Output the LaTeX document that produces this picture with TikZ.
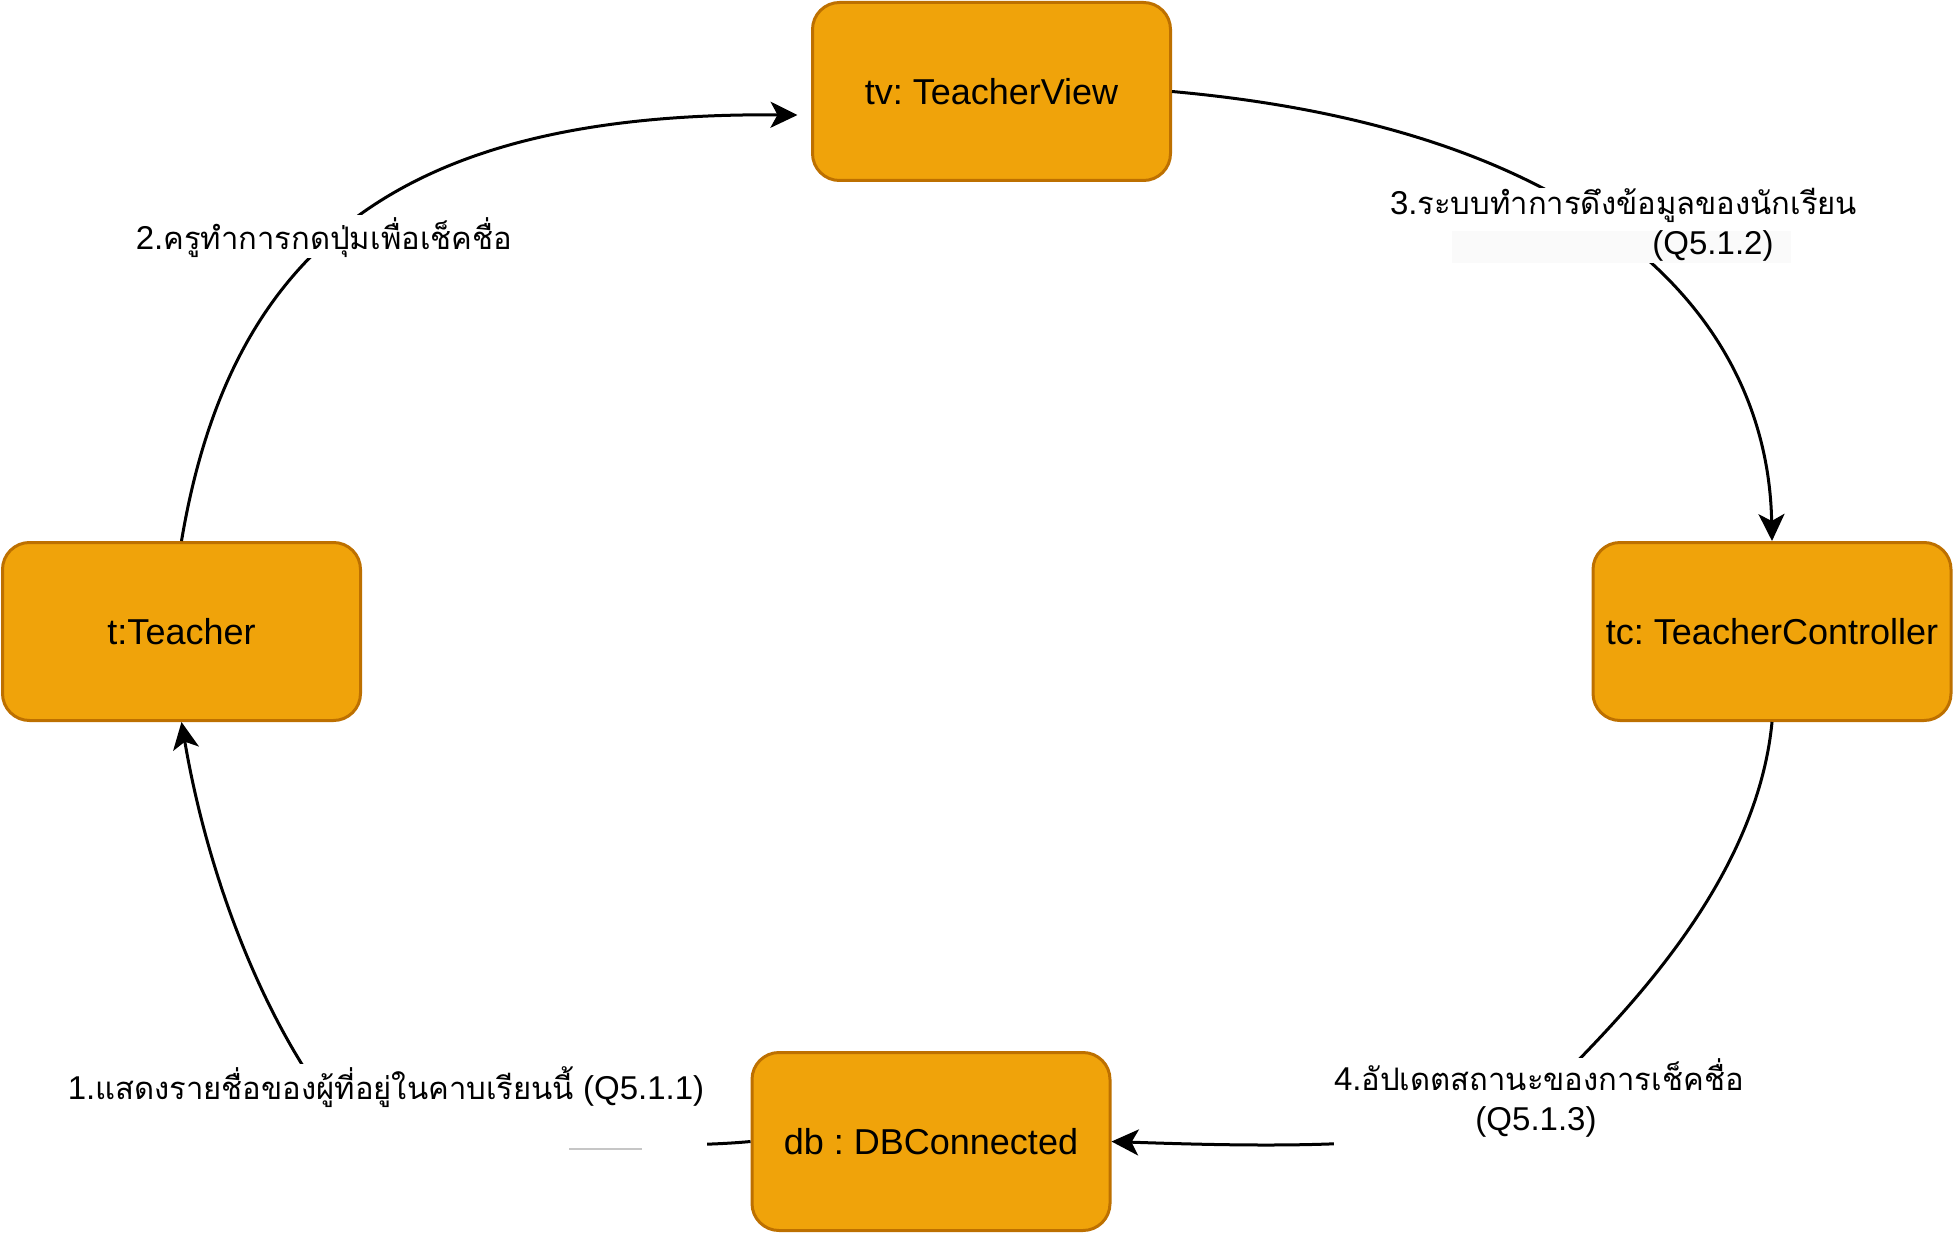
\documentclass[tikz,border=0pt]{standalone}
\usepackage{fontspec}
\setmainfont{Liberation Sans}
\newfontfamily\thai[Script=Thai,Scale=0.94]{Loma}
\usetikzlibrary{arrows.meta}
\definecolor{boxfill}{HTML}{F0A30A}
\definecolor{boxline}{HTML}{BD7000}
\definecolor{hlgrey}{HTML}{FAFAFA}
\setlength{\fboxsep}{0pt}
\frenchspacing
\begin{document}
\begin{tikzpicture}[x=1pt,y=-1pt,
  obj/.style={draw=boxline, fill=boxfill, line width=3pt, rounded corners=27pt,
    minimum width=358pt, minimum height=178pt, inner sep=0pt,
    font=\fontsize{36}{43}\selectfont},
  conn/.style={line width=3pt, -{Stealth[length=27pt,width=26pt,inset=7pt]}},
  lbl/.style={fill=white, inner sep=0pt, align=center, font=\fontsize{33}{40}\selectfont},
  faint/.style={draw=gray!45, line width=1.5pt}]
\useasboundingbox (0,0) rectangle (1953,1233);

% objects
\node[obj] (tv) at (991.5,91.5) {tv: TeacherView};
\node[obj] (t)  at (181.5,631.5) {t:Teacher};
\node[obj] (tc) at (1772,631.5) {tc: TeacherController};
\node[obj] (db) at (931,1141.5) {db : DBConnected};

% connectors
\draw[conn] (db.west) .. controls (640,1152) and (380,1140) .. (310,1077)
  .. controls (250,985) and (205,860) .. (t.south);
\draw[conn] (t.north) .. controls (232,240) and (410,112) .. ([xshift=-13.5pt,yshift=-23.5pt]tv.west);
\draw[conn] (tv.east) .. controls (1600,130) and (1768,320) .. (tc.north);
\draw[conn] (tc.south) .. controls (1755,900) and (1590,1045) .. (1545,1095)
  .. controls (1480,1150) and (1300,1148) .. (db.east);

% labels
\node[lbl, anchor=north, minimum width=642pt, text height=35pt, text depth=50pt] (l1) at (386,1064)
  {1.{\thai แสดงรายชื่อของผู้ที่อยู่ในคาบเรียนนี้} (Q5.1.1)};
\draw[faint] (569,1149) -- (642,1149);
\node[lbl, anchor=north, minimum width=388pt, text height=34pt, text depth=9pt] (l2) at (324,215)
  {2.{\thai ครูทำการกดปุ่มเพื่อเช็คชื่อ}};
\node[lbl, anchor=north, text width=462pt] (l3) at (1621,188)
  {\rule[-9pt]{0pt}{30.5pt}3.{\thai ระบบทำการดึงข้อมูลของนักเรียน}\\
   \colorbox{hlgrey}{\makebox[339pt][r]{\rule[-9pt]{0pt}{30.5pt}(Q5.1.2)\hspace{17pt}}}};
\node[lbl, anchor=north, text width=404pt] (l4) at (1536,1058)
  {\rule[-9pt]{0pt}{33pt}4.{\thai อัปเดตสถานะของการเช็คชื่อ}\\
   \rule[-20pt]{0pt}{30pt}(Q5.1.3)};
\end{tikzpicture}
\end{document}
